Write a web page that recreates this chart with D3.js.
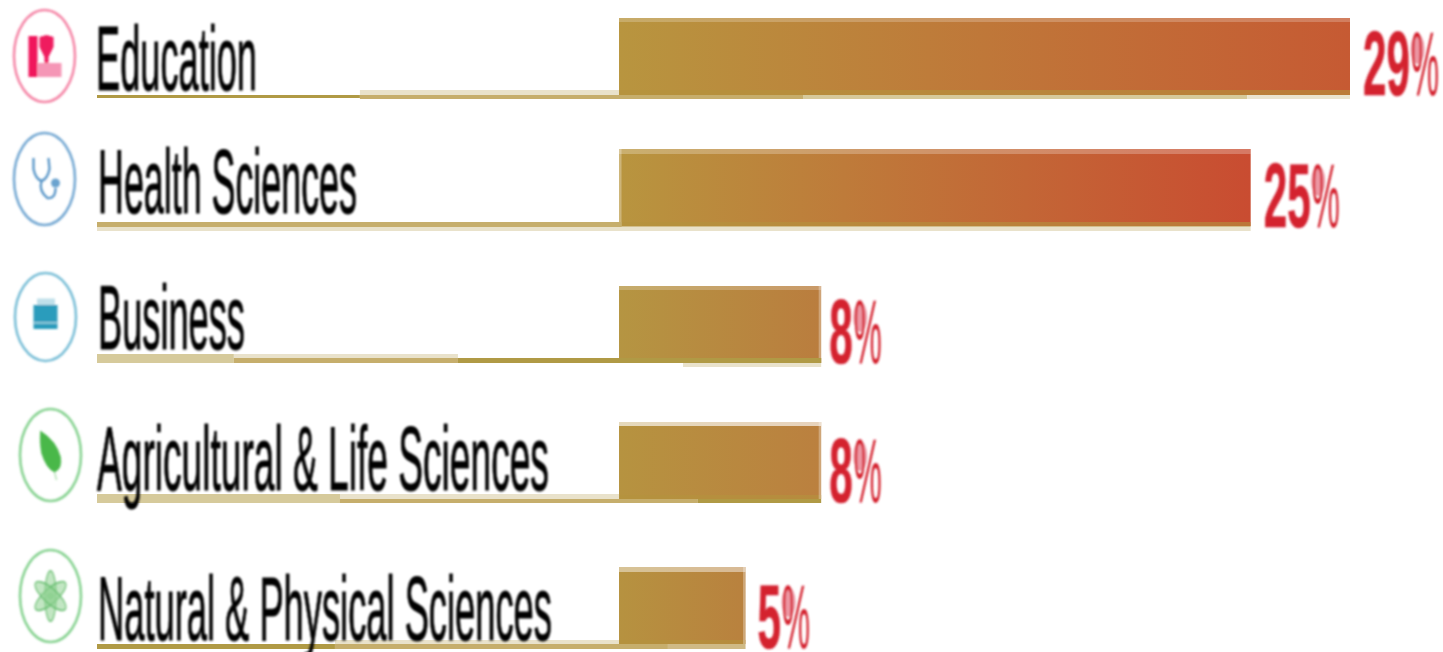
<!DOCTYPE html>
<html><head><meta charset="utf-8">
<script src="https://cdn.jsdelivr.net/npm/d3@7"></script>
<style>html,body{margin:0;padding:0;background:#fff;overflow:hidden}svg{display:block}</style>
</head><body><svg id="c" width="1443" height="652"></svg>
<script>
// ---- data ----
const categories = ["Education","Health Sciences","Business","Agricultural & Life Sciences","Natural & Physical Sciences"];
const shares = [29,25,8,8,5];
const valueLabels = ["29","25","8","8","5"];
// ---- styling per row ----
const gradStart = ["#b8953f","#b8953f","#b59542","#b69340","#b69240"];
const gradEnd = ["#c65a33","#c94c31","#ba7d3e","#bb803f","#b9813e"];
const ringColors = ["#f2628c","#4a8dc4","#4fa9c9","#62c46f","#62c46f"];
// ---- layout ----
const W=1443,H=652;
const rowTops=[18,149,286,422,567];
const baselines=[90,213,349,490,640];
const labelLefts=[96,98,98,97,98];
const labelEnds=[257,357,245,549,552];
const valueBase=[95,227,363,502,648];
const valueGap=[13,13,8,8,12];
const barNudge=[0,1.5,0.5,0.5,0.5];
const ringCx=[44.5,44.5,45.5,50.5,50.5], ringCy=[56,179,317,455,596], ringRy=[47,47,45,47,47];
const x=d3.scaleLinear().domain([-20.71,29]).range([97,1350]);
const rowTop=d3.scaleOrdinal(categories,rowTops);
const barEnd=i=>x(shares[i])+barNudge[i];
const olive="#b09a45",tan="#c6ae6c",light="#e9e2cb",sand="#d6ca9b",pale="#eae4cf";
// underline bands: category index, from/to on the share axis, offsets from row top, colour
const bands=[
[0,-20.71,-10.28,77,80,olive],[0,-10.28,0,72,77,light],[0,-10.28,7.3,77,81,tan],[0,7.3,24.92,77,81,sand],[0,24.92,29,77,81,pale],
[1,-20.71,0.1,73,78,tan],[1,-20.71,25.06,78,82,light],
[2,-20.71,-15.28,68,77,sand],[2,-15.28,-6.39,68,72,light],[2,-15.28,-6.39,72,77,tan],[2,-6.39,8.02,72,77,olive],[2,2.54,8.02,77,81,light],
[3,-20.71,-11.07,72,81,sand],[3,-11.07,0,72,77,light],[3,-11.07,3.13,77,81,tan],[3,3.13,8.02,77,81,olive],
[4,-20.71,-11.27,77,82,olive],[4,-11.27,0,73,77,light],[4,-11.27,1.94,77,82,tan],[4,1.94,5.02,77,82,"#cfba85"]
];
const svg=d3.select("#c");
const defs=svg.append("defs");
const soft=defs.append("filter").attr("id","soft").attr("x","-5%").attr("y","-5%").attr("width","110%").attr("height","110%");
soft.append("feGaussianBlur").attr("stdDeviation",0.8);
categories.forEach((c,i)=>{
  const g=defs.append("linearGradient").attr("id","g"+i);
  g.append("stop").attr("offset","0").attr("stop-color",gradStart[i]);
  g.append("stop").attr("offset","1").attr("stop-color",gradEnd[i]);
});
// bars
svg.selectAll("rect.bar").data(categories).join("rect").attr("class","bar")
 .attr("x",x(0)).attr("y",d=>rowTop(d)).attr("width",(d,i)=>barEnd(i)-x(0)).attr("height",77)
 .attr("fill",(d,i)=>`url(#g${i})`);
// top highlight
const topOp=[.22,.25,.22,.65,.45];
svg.selectAll("rect.top").data(categories).join("rect").attr("class","top")
 .attr("x",x(0)).attr("y",d=>rowTop(d)).attr("width",(d,i)=>barEnd(i)-x(0)).attr("height",(d,i)=>(i==1||i==4)?5:4)
 .attr("fill","#fff").attr("opacity",(d,i)=>topOp[i]);
// bottom gold lip
svg.selectAll("rect.lip").data(categories).join("rect").attr("class","lip")
 .attr("x",x(0)).attr("y",(d,i)=>rowTop(d)+[72,73,72,73,73][i]).attr("width",(d,i)=>barEnd(i)-x(0)).attr("height",(d,i)=>[5,5,5,4,4][i])
 .attr("fill","#b4923e").attr("opacity",.6);
// pale edges
svg.selectAll("rect.edge").data(categories).join("rect").attr("class","edge")
 .attr("x",(d,i)=>i==1?x(0):barEnd(i)-2.5).attr("y",d=>rowTop(d)).attr("width",(d,i)=>i==0?0:2.5).attr("height",77)
 .attr("fill","#fff").attr("opacity",.3);
// underlines
svg.selectAll("rect.band").data(bands).join("rect").attr("class","band")
 .attr("x",d=>x(d[1])).attr("width",d=>x(d[2])-x(d[1]))
 .attr("y",d=>rowTops[d[0]]+d[3]).attr("height",d=>d[4]-d[3]).attr("fill",d=>d[5]);
// icons
const rings=svg.append("g").attr("filter","url(#soft)");
const icons=rings.selectAll("g").data(categories).join("g").attr("transform",(d,i)=>`translate(${ringCx[i]},${ringCy[i]})`);
icons.append("ellipse").attr("rx",30.5).attr("ry",(d,i)=>ringRy[i]-1).attr("fill","none")
 .attr("stroke",(d,i)=>ringColors[i]).attr("stroke-width",2.6).attr("opacity",.75);
const ed=icons.filter((d,i)=>i==0);
ed.append("rect").attr("x",-16).attr("y",-20).attr("width",9).attr("height",41).attr("fill","#f0185c");
ed.append("path").attr("d","M-5 -19 L2 -21 L9 -19 L9 -9 L4 1 L4 7 L0 7 L0 1 L-5 -9 Z").attr("fill","#ef1a5e");
ed.append("rect").attr("x",-7).attr("y",7).attr("width",24).attr("height",14).attr("fill","#f596b6");
const he=icons.filter((d,i)=>i==1);
he.append("path").attr("d","M-11 -21 L-11 -10 Q-9 0 -3 2 Q3 0 5 -10 L4 -21 M-3 2 Q-6 12 3 19 Q11 20 11 9")
 .attr("fill","none").attr("stroke","#3f86bf").attr("stroke-width",2.4).attr("opacity",.85);
he.append("circle").attr("cx",11).attr("cy",4).attr("r",4.5).attr("fill","#6aa3cf");
const bu=icons.filter((d,i)=>i==2);
bu.append("path").attr("d","M-7 -12 L-7 -17 L8 -17 L8 -12").attr("fill","#bfe0ea").attr("stroke","#bfe0ea").attr("stroke-width",3);
bu.append("rect").attr("x",-12).attr("y",-12).attr("width",24).attr("height",24).attr("fill","#2a9cbc");
bu.append("rect").attr("x",-12).attr("y",5).attr("width",24).attr("height",1.6).attr("fill","#9fd2e1");
const le=icons.filter((d,i)=>i==3);
le.append("path").attr("d","M-10 -24 Q6 -14 10 2 Q12 14 4 17 Q-4 14 -9 -2 Q-11 -14 -10 -24 Z M4 17 L6 25").attr("fill","#48b84a").attr("stroke","#48b84a").attr("stroke-width",.6);
const at=icons.filter((d,i)=>i==4);
[0,60,120].forEach(a=>at.append("ellipse").attr("rx",7).attr("ry",22).attr("transform",`scale(.8,1.15) rotate(${a})`)
  .attr("fill","#8fd292").attr("fill-opacity",.55).attr("stroke","#6cc074").attr("stroke-width",1.4));
at.append("circle").attr("r",3.5).attr("fill","#8fd292");
// text
const txt=svg.append("g").attr("filter","url(#soft)");
const fitted=(sel,font,size,weight,col)=>sel.attr("font-family",font).attr("font-size",size).attr("font-weight",weight).attr("fill",col);
categories.forEach((c,i)=>{
  const t=fitted(txt.append("text").text(c),"Liberation Sans",91,400,"#000");
  const w=t.node().getComputedTextLength();
  const k=(labelEnds[i]-labelLefts[i])/w;
  t.attr("transform",`translate(${labelLefts[i]},${baselines[i]}) scale(${k},1)`).attr("stroke","#000").attr("stroke-width",1);
  // value labels
  const vx=barEnd(i)+valueGap[i];
  const n=fitted(txt.append("text").text(valueLabels[i]),"Liberation Sans",90,700,"#d4202f");
  const nw=n.node().getComputedTextLength()*0.47;
  n.attr("transform",`translate(${vx},${valueBase[i]}) scale(0.47,1)`).attr("stroke","#d4202f").attr("stroke-width",.6);
  txt.append("ellipse").attr("cx",vx+nw+7.5).attr("cy",valueBase[i]-46).attr("rx",7).attr("ry",15).attr("fill","#ec98a4");
  fitted(txt.append("text").text("%"),"Liberation Sans",90,400,"#d4202f")
   .attr("transform",`translate(${vx+nw+1},${valueBase[i]}) scale(0.35,1)`);
});
</script></body></html>
